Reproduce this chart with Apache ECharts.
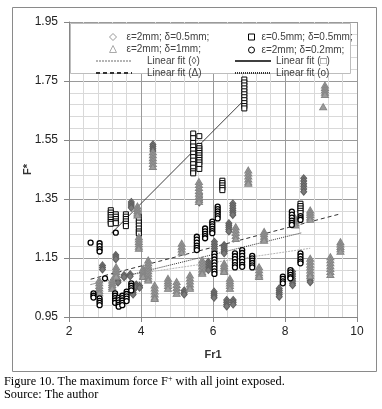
<!DOCTYPE html>
<html><head><meta charset="utf-8">
<script src="https://cdn.jsdelivr.net/npm/echarts@6/dist/echarts.min.js"></script>
<style>html,body{margin:0;padding:0;background:#fff;}#c{width:382px;height:409px;}</style>
</head><body><div id="c"></div>
<script>
// Series names
const nameD = 'ε=2mm; δ=0.5mm;';
const nameS = 'ε=0.5mm; δ=0.5mm;';
const nameT = 'ε=2mm; δ=1mm;';
const nameC = 'ε=2mm; δ=0.2mm;';
const fitNames = ['Linear fit (◊)', 'Linear fit (□)', 'Linear fit (Δ)', 'Linear fit (o)'];

// Axis ticks
const xTicks = [2, 4, 6, 8, 10];
const yTicks = [0.95, 1.15, 1.35, 1.55, 1.75, 1.95];

// Data: columns of [Fr1, [F* values]]
const diamondCols = [
 [2.93,[1.125,1.118,1.111]],
 [3.30,[1.160,1.153,1.146]],
 [3.36,[1.074,1.067]],
 [3.53,[1.092,1.085]],
 [3.70,[1.095,1.088]],
 [3.73,[1.340,1.333,1.326,1.320]],
 [3.78,[1.040,1.033,1.026]],
 [3.87,[1.060,1.053]],
 [3.96,[1.056,1.049]],
 [4.33,[1.535,1.528,1.520,1.513]],
 [5.20,[1.040,1.033,1.026]],
 [5.62,[1.365,1.355,1.345,1.338]],
 [5.87,[1.137,1.130,1.123,1.116,1.109]],
 [6.03,[1.036,1.029,1.022,1.015]],
 [6.04,[1.205,1.197,1.189,1.181,1.173]],
 [6.31,[1.194,1.187,1.180,1.173,1.166]],
 [6.38,[1.008,1.000,0.992,0.986]],
 [6.56,[1.008,1.000,0.992]],
 [6.44,[1.268,1.261,1.254,1.247,1.240]],
 [6.55,[1.335,1.327,1.319,1.311,1.303,1.296]],
 [7.84,[1.047,1.040,1.033,1.026,1.019]],
 [8.21,[1.104,1.096,1.088,1.080,1.072,1.064,1.058]],
 [8.52,[1.420,1.411,1.402,1.393,1.384,1.375]],
 [8.70,[1.090,1.082,1.074,1.068]]
];
const squareCols = [
 [3.16,[1.312,1.304,1.296,1.288,1.280,1.272,1.266]],
 [3.30,[1.298,1.290,1.282,1.274,1.268]],
 [3.58,[1.298,1.290,1.282,1.274,1.266,1.258]],
 [3.94,[1.290,1.280,1.270,1.260,1.250,1.240,1.233]],
 [5.45,[1.572,1.556,1.540,1.528,1.516,1.504,1.492,1.480,1.468,1.456,1.444,1.437]],
 [5.62,[1.563,1.530,1.522,1.514,1.506,1.498,1.490,1.482,1.474,1.466,1.452]],
 [6.26,[1.412,1.404,1.396,1.388,1.380]],
 [6.87,[1.755,1.745,1.735,1.725,1.715,1.705,1.695,1.685,1.675,1.665,1.657]],
 [8.43,[1.334,1.326,1.318,1.310,1.302]]
];
const triangleCols = [
 [2.84,[1.075,1.066,1.057,1.048,1.040,1.032]],
 [3.20,[1.075,1.067,1.060,1.053,1.047]],
 [3.31,[1.120,1.112,1.104,1.096,1.088]],
 [3.90,[1.326,1.318,1.310,1.302,1.296]],
 [3.94,[1.222,1.214,1.206,1.198,1.190,1.183]],
 [4.06,[1.115,1.107,1.099,1.091,1.087]],
 [4.20,[1.143,1.134,1.125,1.116,1.107,1.098,1.089,1.080,1.075]],
 [4.33,[1.510,1.500,1.490,1.480,1.470,1.460]],
 [4.38,[1.058,1.048,1.038,1.028,1.018,1.013]],
 [4.75,[1.081,1.073,1.065,1.057,1.047]],
 [4.99,[1.070,1.060,1.050,1.040,1.030]],
 [5.13,[1.200,1.190,1.180,1.170]],
 [5.36,[1.092,1.082,1.072,1.062,1.052,1.047]],
 [5.61,[1.409,1.399,1.389,1.379,1.369,1.359,1.349,1.341]],
 [5.70,[1.143,1.133,1.123,1.113,1.103,1.098]],
 [6.31,[1.132,1.124,1.116,1.108,1.104]],
 [6.47,[1.081,1.073,1.065,1.057,1.047]],
 [6.63,[1.256,1.246,1.236,1.226,1.216]],
 [6.98,[1.448,1.438,1.428,1.418,1.408,1.403]],
 [7.28,[1.120,1.110,1.100,1.092,1.087]],
 [7.42,[1.240,1.232,1.224,1.216,1.210]],
 [8.29,[1.285,1.277,1.269,1.262]],
 [8.70,[1.313,1.305,1.297,1.289,1.281]],
 [8.70,[1.149,1.139,1.129,1.119,1.109,1.099,1.090]],
 [9.06,[1.663]],
 [9.11,[1.736,1.728,1.720,1.712,1.704]],
 [9.26,[1.154,1.144,1.134,1.124,1.114,1.104,1.094]],
 [9.54,[1.205,1.197,1.189,1.181,1.173]]
];
const circleCols = [
 [2.60,[1.202]],
 [2.68,[1.030,1.022,1.016]],
 [2.85,[1.200,1.190,1.180,1.172]],
 [2.85,[1.013,1.005,0.998,0.990]],
 [3.00,[1.081]],
 [3.28,[1.030,1.022,1.014,1.006,0.998]],
 [3.30,[1.236]],
 [3.38,[1.015,1.007,0.999,0.991,0.985]],
 [3.48,[1.022,1.014,1.006,0.998,0.990]],
 [3.60,[1.036,1.028,1.020,1.012,1.004]],
 [3.73,[1.064,1.056,1.048,1.040]],
 [5.55,[1.222,1.212,1.202,1.192,1.184,1.177]],
 [5.78,[1.250,1.240,1.232,1.224,1.217]],
 [5.98,[1.273,1.265,1.257,1.249,1.241,1.234]],
 [6.04,[1.165,1.155,1.145,1.135,1.125,1.115,1.105,1.096]],
 [6.13,[1.324,1.316,1.308,1.300,1.292,1.284]],
 [6.61,[1.166,1.156,1.146,1.136,1.126,1.118]],
 [6.81,[1.177,1.167,1.157,1.147,1.137,1.127,1.120]],
 [7.09,[1.157,1.149,1.141,1.133,1.125,1.118]],
 [7.94,[1.087,1.079,1.071,1.064]],
 [8.15,[1.109,1.101,1.093,1.085,1.081]],
 [8.19,[1.307,1.297,1.287,1.277,1.269,1.262]],
 [8.43,[1.292,1.285,1.279]],
 [8.43,[1.166,1.156,1.146,1.138,1.132]]
];

// Linear fit end points
const fitDiamond = [[3.8,1.095],[8.7,1.183]];
const fitSquare = [[3.18,1.234],[6.87,1.686]];
const fitTriangle = [[2.6,1.078],[9.55,1.30]];
const fitCircle = [[2.6,1.06],[8.45,1.235]];

function flat(cols){ const out=[]; cols.forEach(c=>c[1].forEach(y=>out.push([c[0],y]))); return out; }

const chart = echarts.init(document.getElementById('c'), null, {renderer:'canvas'});
const lf = {fontSize:10, color:'#404040', fontFamily:'Liberation Sans', lineHeight:12};
const axisColor = '#868686';
const hideSym = {opacity:0};
const option = {
  animation:false,
  backgroundColor:'#fff',
  grid:{left:69, right:25, top:22, bottom:92, outerBoundsMode:'none'},
  xAxis:{type:'value', min:xTicks[0], max:xTicks[xTicks.length-1], interval:2,
    name:'Fr1', nameLocation:'middle', nameGap:32, nameMoveOverlap:false,
    nameTextStyle:{fontSize:11, fontWeight:'bold', color:'#333', fontFamily:'Liberation Sans'},
    axisLine:{show:true, onZero:false, lineStyle:{color:axisColor}},
    axisTick:{show:true, inside:false, length:5, lineStyle:{color:axisColor}},
    axisLabel:{fontSize:12, color:'#222', margin:9, fontFamily:'Liberation Sans'},
    splitLine:{show:true, lineStyle:{color:'#9a9a9a', width:1}},
    minorTick:{show:false, splitNumber:5},
    minorSplitLine:{show:true, lineStyle:{color:'#d9d9d9', width:1}}
  },
  yAxis:{type:'value', min:yTicks[0], max:yTicks[yTicks.length-1], interval:0.2,
    name:'F*', nameLocation:'middle', nameGap:36, nameRotate:90, nameMoveOverlap:false,
    nameTextStyle:{fontSize:11, fontWeight:'bold', color:'#333', fontFamily:'Liberation Sans'},
    axisLine:{show:true, onZero:false, lineStyle:{color:axisColor}},
    axisTick:{show:true, inside:false, length:5, lineStyle:{color:axisColor}},
    axisLabel:{fontSize:12, color:'#222', margin:11, fontFamily:'Liberation Sans', formatter:v=>v.toFixed(2)},
    splitLine:{show:true, lineStyle:{color:'#9a9a9a', width:1}},
    minorTick:{show:false, splitNumber:5},
    minorSplitLine:{show:true, lineStyle:{color:'#d9d9d9', width:1}}
  },
  legend:[
    {left:104, top:26, orient:'vertical', itemWidth:7, itemHeight:7, itemGap:0, selectedMode:false,
     textStyle:Object.assign({}, lf, {padding:[0,0,0,5]}),
     data:[{name:nameD, icon:'diamond', itemStyle:{color:'#fff', borderColor:'#999', borderWidth:1}},
           {name:nameT, icon:'triangle', itemStyle:{color:'#fff', borderColor:'#aaa', borderWidth:1}}]},
    {left:243, top:26, orient:'vertical', itemWidth:6, itemHeight:6, itemGap:1, selectedMode:false,
     textStyle:Object.assign({}, lf, {padding:[0,0,0,2]}),
     data:[{name:nameS, icon:'rect', itemStyle:{color:'#fff', borderColor:'#000', borderWidth:1}},
           {name:nameC, icon:'circle', itemStyle:{color:'#fff', borderColor:'#000', borderWidth:1}}]},
    {left:90, top:50, orient:'vertical', itemWidth:36, itemHeight:7, itemGap:0, selectedMode:false,
     textStyle:Object.assign({}, lf, {padding:[0,0,0,10]}),
     data:[{name:fitNames[0], itemStyle:hideSym}, {name:fitNames[2], itemStyle:hideSym}]},
    {left:229, top:50, orient:'vertical', itemWidth:36, itemHeight:7, itemGap:0, selectedMode:false,
     textStyle:lf,
     data:[{name:fitNames[1], itemStyle:hideSym}, {name:fitNames[3], itemStyle:hideSym}]}
  ],
  graphic:[
    {type:'rect', z:3, shape:{x:70.5, y:23.5, width:280, height:50}, style:{fill:'#fff', stroke:'#bdbdbd', lineWidth:1}},
    {type:'rect', z:10, shape:{x:12.5, y:7.5, width:364, height:364}, style:{fill:'none', stroke:'#8a8a8a', lineWidth:1}},
    {type:'text', z:10, left:4, top:375, style:{text:'{a|Figure 10. The maximum force F}{s|+}{a| with all joint exposed.}',
      rich:{a:{fontSize:12.3, fontFamily:'Liberation Serif', fill:'#000'}, s:{fontSize:8, fontFamily:'Liberation Serif', fill:'#000', padding:[0,0,6,0]}}}},
    {type:'text', z:10, left:4, top:389, style:{text:'Source: The author', fontSize:12.3, fontFamily:'Liberation Serif', fill:'#000'}}
  ],
  series:[
    {name:nameD, type:'scatter', symbol:'diamond', symbolSize:[6,7], data:flat(diamondCols), z:2,
     itemStyle:{color:'#7a7a7a', borderColor:'#5f5f5f', borderWidth:1, opacity:1}},
    {name:nameS, type:'scatter', symbol:'rect', symbolSize:5, data:flat(squareCols), z:2,
     itemStyle:{color:'#fff', borderColor:'#000', borderWidth:1, opacity:1}},
    {name:nameT, type:'scatter', symbol:'triangle', symbolSize:[7,6], data:flat(triangleCols), z:2,
     itemStyle:{color:'#9c9c9c', borderColor:'#858585', borderWidth:1, opacity:1}},
    {name:nameC, type:'scatter', symbol:'circle', symbolSize:5, data:flat(circleCols), z:2,
     itemStyle:{color:'#fff', borderColor:'#000', borderWidth:1.3, opacity:1}},
    {name:fitNames[0], type:'line', data:fitDiamond, symbol:'none', z:2,
     itemStyle:{color:'#b5b5b5'}, lineStyle:{color:'#b5b5b5', width:1, type:[2,1]}},
    {name:fitNames[1], type:'line', data:fitSquare, symbol:'none', z:2,
     itemStyle:{color:'#404040'}, lineStyle:{color:'#404040', width:1, type:'solid'}},
    {name:fitNames[2], type:'line', data:fitTriangle, symbol:'none', z:2,
     itemStyle:{color:'#333'}, lineStyle:{color:'#333', width:1, type:[4,3]}},
    {name:fitNames[3], type:'line', data:fitCircle, symbol:'none', z:2,
     itemStyle:{color:'#333'}, lineStyle:{color:'#333', width:1, type:[1,1]}}
  ]
};
chart.setOption(option);
</script></body></html>
